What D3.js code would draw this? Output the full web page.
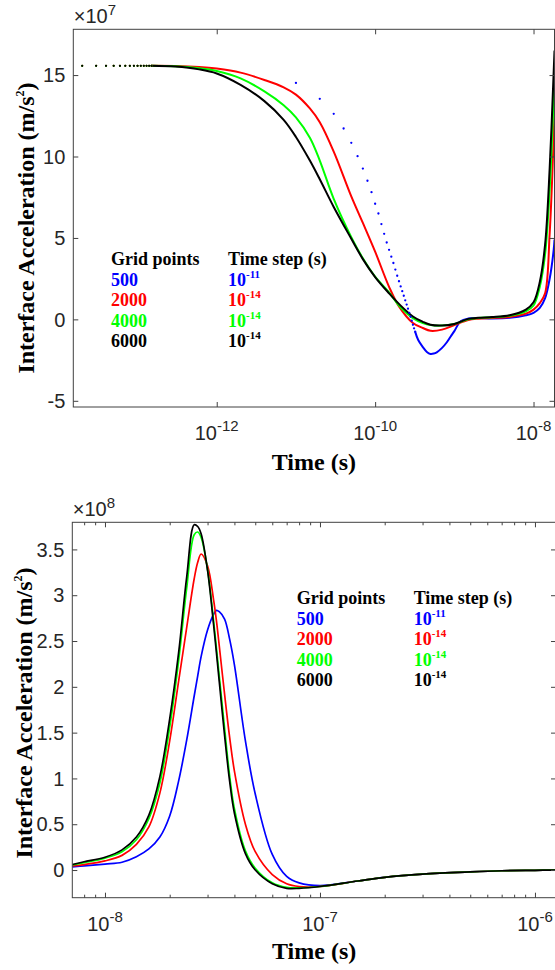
<!DOCTYPE html>
<html>
<head>
<meta charset="utf-8">
<script src="https://cdn.jsdelivr.net/npm/d3@7"></script>
<style>
  body { margin: 0; background: #fff; }
  svg { display: block; }
</style>
</head>
<body>
<svg id="chart" width="555" height="970"></svg>
<script>
// ---------- series meta ----------
const gridPoints = ["500", "2000", "4000", "6000"];
const timeStepExp = ["-11", "-14", "-14", "-14"];
const seriesColors = ["#0000ff", "#ff0000", "#00ff00", "#000000"];

// ---------- panel A: early response (values ×1e7 m/s²) ----------
const tickA_x = [1e-12, 1e-10, 1e-8];
const tickA_xExp = ["-12", "-10", "-8"];
const tickA_y = [-5, 0, 5, 10, 15];

// first samples (dt = 1e-14 s) drawn as separate points
const earlyT = [2e-14, 3e-14, 4e-14, 5e-14, 6e-14, 7e-14, 8e-14, 9e-14, 1e-13, 1.1e-13, 1.2e-13, 1.3e-13, 1.4e-13, 1.5e-13];
const earlyV = [15.57, 15.57, 15.57, 15.57, 15.57, 15.57, 15.57, 15.57, 15.57, 15.57, 15.57, 15.57, 15.57, 15.57];

// 500 grid points, dt = 1e-11 s: sample points t = k·1e-11
const blueDotT = [1e-11, 2e-11, 3e-11, 4e-11, 5e-11, 6e-11, 7e-11, 8e-11, 9e-11, 1e-10,
  1.1e-10, 1.2e-10, 1.3e-10, 1.4e-10, 1.5e-10, 1.6e-10, 1.7e-10, 1.8e-10, 1.9e-10, 2e-10,
  2.1e-10, 2.2e-10, 2.3e-10, 2.4e-10, 2.5e-10, 2.6e-10, 2.7e-10, 2.8e-10, 2.9e-10, 3e-10,
  3.1e-10, 3.2e-10];
const blueDotV = [14.52, 13.54, 12.62, 11.72, 10.84, 10.02, 9.26, 8.51, 7.81, 7.1,
  6.5, 5.85, 5.25, 4.72, 4.27, 3.85, 3.46, 3.06, 2.68, 2.34,
  2.02, 1.73, 1.45, 1.17, 0.91, 0.66, 0.4, 0.16, -0.08, -0.33,
  -0.55, -0.75];
const blueLineT = [3.2e-10, 3.5e-10, 4e-10, 4.5e-10, 5e-10, 5.5e-10, 6e-10, 7e-10, 8e-10, 9e-10,
  1e-9, 1.2e-9, 1.5e-9, 2e-9, 3e-9, 5e-9, 8e-9, 1e-8, 1.2e-8, 1.4e-8, 1.6e-8, 1.8e-8, 1.84e-8];
const blueLineV = [-0.75, -1.27, -1.7, -2.0, -2.12, -2.1, -2.02, -1.75, -1.42, -1.05,
  -0.72, -0.12, 0.05, 0.08, 0.06, 0.1, 0.25, 0.4, 0.7, 1.3, 2.5, 4.3, 4.9];

// 2000 / 4000 / 6000 grid points (dt = 1e-14 s)
const tA = [1.5e-13, 3e-13, 6e-13, 1e-12, 2e-12, 4e-12, 7e-12, 1e-11, 1.5e-11, 2e-11,
  3e-11, 5e-11, 7e-11, 1e-10, 1.5e-10, 2e-10, 3e-10, 4e-10, 5e-10, 7e-10,
  1e-9, 1.5e-9, 2e-9, 3e-9, 5e-9, 8e-9, 1e-8, 1.2e-8, 1.4e-8, 1.6e-8, 1.8e-8, 1.84e-8];
const redA = [15.57, 15.56, 15.5, 15.4, 15.15, 14.7, 14.25, 13.8, 12.95, 12.1,
  10.3, 7.55, 5.92, 4.16, 2.0, 0.8, -0.22, -0.53, -0.7, -0.63,
  -0.35, -0.04, 0.04, 0.08, 0.15, 0.35, 0.6, 1.0, 1.6, 5.3, 11.3, 12.8];
const greenA = [15.57, 15.54, 15.42, 15.25, 14.8, 14.0, 13.15, 12.4, 11.15, 9.75,
  7.4, 5.05, 3.75, 2.62, 1.65, 0.85, 0.08, -0.22, -0.35, -0.38,
  -0.28, 0.0, 0.08, 0.13, 0.22, 0.5, 0.85, 2.0, 4.0, 8.0, 13.8, 15.2];
const blackA = [15.57, 15.52, 15.35, 15.1, 14.4, 13.4, 12.25, 11.2, 9.75, 8.6,
  6.9, 4.95, 3.7, 2.6, 1.6, 0.95, 0.18, -0.15, -0.33, -0.38,
  -0.28, 0.03, 0.1, 0.14, 0.25, 0.6, 1.05, 2.3, 4.6, 9.3, 15.3, 16.5];

// ---------- panel B: main pulse (values ×1e8 m/s²) ----------
const tickB_x = [1e-8, 1e-7, 1e-6];
const tickB_xExp = ["-8", "-7", "-6"];
const tickB_xMinor = [8e-9, 9e-9, 2e-8, 3e-8, 4e-8, 5e-8, 6e-8, 7e-8, 8e-8, 9e-8,
  2e-7, 3e-7, 4e-7, 5e-7, 6e-7, 7e-7, 8e-7, 9e-7];
const tickB_y = [0, 0.5, 1, 1.5, 2, 2.5, 3, 3.5];

const tB = [7.05e-9, 8e-9, 1e-8, 1.2e-8, 1.4e-8, 1.6e-8, 1.8e-8, 2e-8, 2.2e-8, 2.4e-8,
  2.6e-8, 2.7e-8, 2.8e-8, 3e-8, 3.2e-8, 3.3e-8, 3.4e-8, 3.6e-8, 3.8e-8, 4e-8,
  4.5e-8, 5e-8, 6e-8, 7e-8, 8e-8, 1e-7, 1.5e-7, 2e-7, 3e-7, 5e-7, 7e-7, 1e-6, 1.26e-6];
const blueB = [0.035, 0.045, 0.065, 0.085, 0.145, 0.23, 0.36, 0.59, 0.97, 1.42,
  1.9, 2.12, 2.33, 2.62, 2.79, 2.835, 2.82, 2.74, 2.52, 2.24,
  1.41, 0.83, 0.17, -0.07, -0.14, -0.17, -0.12, -0.08, -0.045, -0.02, -0.008, -0.003, 0];
const redB = [0.045, 0.06, 0.1, 0.16, 0.28, 0.47, 0.84, 1.41, 2.06, 2.65,
  3.18, 3.36, 3.45, 3.32, 2.95, 2.72, 2.45, 1.92, 1.45, 1.08,
  0.5, 0.2, -0.05, -0.15, -0.18, -0.18, -0.12, -0.08, -0.045, -0.02, -0.008, -0.003, 0];
const greenB = [0.055, 0.08, 0.13, 0.2, 0.33, 0.56, 0.95, 1.56, 2.28, 3.08,
  3.66, 3.69, 3.63, 3.28, 2.72, 2.42, 2.12, 1.55, 1.03, 0.67,
  0.21, 0.02, -0.14, -0.19, -0.195, -0.18, -0.12, -0.08, -0.045, -0.02, -0.008, -0.003, 0];
const blackB = [0.06, 0.09, 0.14, 0.22, 0.36, 0.6, 1.02, 1.65, 2.37, 3.2,
  3.77, 3.75, 3.67, 3.27, 2.68, 2.37, 2.06, 1.47, 0.97, 0.62,
  0.18, 0.0, -0.15, -0.2, -0.2, -0.18, -0.12, -0.08, -0.045, -0.02, -0.008, -0.003, 0];

// ---------- drawing ----------
const sansFont = "'Liberation Sans', Arial, Helvetica, sans-serif";
const serifFont = "'Liberation Serif', 'Times New Roman', Times, serif";
const inkColor = "#262626";
const frameColor = "#404040";
const svg = d3.select("#chart");

const zip = (ts, vs) => ts.map((t, i) => ({ t, v: vs[i] }));

function drawPanel(p) {
  const x = d3.scaleLog().domain(p.xDomain).range([p.left, p.right]);
  const y = d3.scaleLinear().domain(p.yDomain).range([p.bottom, p.top]);
  const g = svg.append("g");

  g.append("clipPath").attr("id", p.id + "-clip")
    .append("rect")
    .attr("x", p.left).attr("y", p.top)
    .attr("width", p.right - p.left).attr("height", p.bottom - p.top);

  const plot = g.append("g").attr("clip-path", `url(#${p.id}-clip)`);
  const line = d3.line().x(d => x(d.t)).y(d => y(d.v)).curve(d3.curveCatmullRom.alpha(0.5));

  p.lines.forEach(s => {
    plot.append("path")
      .datum(zip(s.t, s.v))
      .attr("fill", "none")
      .attr("stroke", s.color)
      .attr("stroke-width", p.lineWidth)
      .attr("stroke-linejoin", "round")
      .attr("d", line);
  });
  p.dots.forEach(s => {
    plot.append("g").selectAll("circle")
      .data(zip(s.t, s.v))
      .join("circle")
      .attr("cx", d => x(d.t))
      .attr("cy", d => y(d.v))
      .attr("r", s.r)
      .attr("fill", s.color);
  });

  // frame
  g.append("rect")
    .attr("x", p.left).attr("y", p.top)
    .attr("width", p.right - p.left).attr("height", p.bottom - p.top)
    .attr("fill", "none").attr("stroke", frameColor).attr("stroke-width", 1);

  const tickAxis = (axis, transform) => {
    g.append("g").attr("transform", transform).attr("color", frameColor)
      .call(axis)
      .call(s => s.select(".domain").remove())
      .call(s => s.selectAll("text").remove());
  };
  tickAxis(d3.axisBottom(x).tickValues(p.xTicks).tickSizeInner(-5).tickSizeOuter(0), `translate(0,${p.bottom})`);
  tickAxis(d3.axisTop(x).tickValues(p.xTicks).tickSizeInner(-5).tickSizeOuter(0), `translate(0,${p.top})`);
  if (p.xMinor) {
    tickAxis(d3.axisBottom(x).tickValues(p.xMinor).tickSizeInner(-3).tickSizeOuter(0), `translate(0,${p.bottom})`);
    tickAxis(d3.axisTop(x).tickValues(p.xMinor).tickSizeInner(-3).tickSizeOuter(0), `translate(0,${p.top})`);
  }
  tickAxis(d3.axisLeft(y).tickValues(p.yTicks).tickSizeInner(-5).tickSizeOuter(0), `translate(${p.left},0)`);
  tickAxis(d3.axisRight(y).tickValues(p.yTicks).tickSizeInner(-5).tickSizeOuter(0), `translate(${p.right},0)`);

  // y tick labels
  g.append("g").selectAll("text")
    .data(p.yTicks)
    .join("text")
    .attr("x", p.left - 8)
    .attr("y", d => y(d))
    .attr("dy", "0.36em")
    .attr("text-anchor", "end")
    .attr("font-family", sansFont)
    .attr("font-size", 20)
    .attr("fill", inkColor)
    .text(d => String(d));

  // x tick labels: 10^n
  const xl = g.append("g").selectAll("text")
    .data(p.xTicks.map((t, i) => ({ t, e: p.xExp[i] })))
    .join("text")
    .attr("x", d => x(d.t))
    .attr("y", p.bottom + 33)
    .attr("text-anchor", "middle")
    .attr("font-family", sansFont)
    .attr("font-size", 20)
    .attr("fill", inkColor);
  xl.append("tspan").text("10");
  xl.append("tspan").attr("font-size", 15).attr("dy", -9).text(d => d.e);

  // exponent multiplier
  const mult = g.append("text")
    .attr("x", p.left + 0.5).attr("y", p.top - 6)
    .attr("font-family", sansFont).attr("font-size", 20).attr("fill", inkColor);
  mult.append("tspan").text("\u00d710");
  mult.append("tspan").attr("font-size", 15).attr("dy", -8).text(p.multExp);

  // axis titles
  g.append("text")
    .attr("x", (p.left + p.right) / 2)
    .attr("y", p.bottom + p.titleOffset)
    .attr("text-anchor", "middle")
    .attr("font-family", serifFont).attr("font-weight", "bold").attr("font-size", 24)
    .attr("fill", "#000")
    .text("Time (s)");

  const yt = g.append("text")
    .attr("transform", `translate(${p.yTitleX},${p.yTitleY}) rotate(-90)`)
    .attr("text-anchor", "middle")
    .attr("font-family", serifFont).attr("font-weight", "bold").attr("font-size", 24)
    .attr("fill", "#000");
  yt.append("tspan").text("Interface Acceleration (m/s");
  yt.append("tspan").attr("font-size", 12).attr("dy", -10).text("2");
  yt.append("tspan").attr("dy", 10).text(")");

  // legend
  const lg = g.append("g")
    .attr("font-family", serifFont).attr("font-weight", "bold").attr("font-size", 18);
  lg.append("text").attr("x", p.legendX).attr("y", p.legendY).attr("fill", "#000").text("Grid points");
  lg.append("text").attr("x", p.legendX + 117).attr("y", p.legendY).attr("fill", "#000").text("Time step (s)");
  gridPoints.forEach((gp, i) => {
    const yy = p.legendY + 20.5 * (i + 1);
    lg.append("text").attr("x", p.legendX).attr("y", yy).attr("fill", seriesColors[i]).text(gp);
    const ts = lg.append("text").attr("x", p.legendX + 117).attr("y", yy).attr("fill", seriesColors[i]);
    ts.append("tspan").text("10");
    ts.append("tspan").attr("font-size", 11).attr("dy", -8).text(timeStepExp[i]);
  });
}

drawPanel({
  id: "early",
  left: 73.3, right: 554.5, top: 29.3, bottom: 407,
  xDomain: [1.545e-14, 1.84e-8], yDomain: [-5.38, 17.81],
  xTicks: tickA_x, xExp: tickA_xExp, yTicks: tickA_y,
  multExp: "7", lineWidth: 2, titleOffset: 63,
  yTitleX: 33.5, yTitleY: 228,
  legendX: 111, legendY: 265,
  lines: [
    { t: blueLineT, v: blueLineV, color: seriesColors[0] },
    { t: tA, v: redA, color: seriesColors[1] },
    { t: tA, v: greenA, color: seriesColors[2] },
    { t: tA, v: blackA, color: seriesColors[3] }
  ],
  dots: [
    { t: blueDotT, v: blueDotV, color: seriesColors[0], r: 1.15 },
    { t: earlyT, v: earlyV, color: seriesColors[1], r: 1.1 },
    { t: earlyT, v: earlyV, color: seriesColors[2], r: 1.1 },
    { t: earlyT, v: earlyV, color: seriesColors[3], r: 1.1 }
  ]
});

drawPanel({
  id: "pulse",
  left: 72.3, right: 556, top: 522.3, bottom: 897.7,
  xDomain: [7.047e-9, 1.2527e-6], yDomain: [-0.302, 3.796],
  xTicks: tickB_x, xExp: tickB_xExp, xMinor: tickB_xMinor, yTicks: tickB_y,
  multExp: "8", lineWidth: 1.7, titleOffset: 61,
  yTitleX: 31.5, yTitleY: 713,
  legendX: 296.7, legendY: 604,
  lines: [
    { t: tB, v: blueB, color: seriesColors[0] },
    { t: tB, v: redB, color: seriesColors[1] },
    { t: tB, v: greenB, color: seriesColors[2] },
    { t: tB, v: blackB, color: seriesColors[3] }
  ],
  dots: []
});
</script>
</body>
</html>
